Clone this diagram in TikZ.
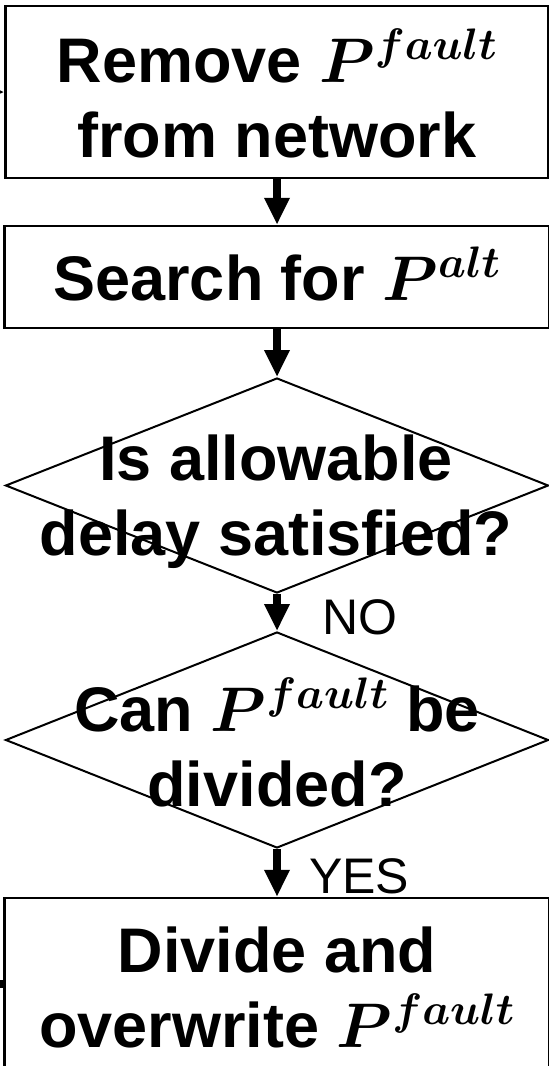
\RequirePackage{fix-cm}
\documentclass[tikz,border=0pt]{standalone}
\usepackage{fontspec}
\setmainfont{Liberation Sans}
\usetikzlibrary{arrows.meta,shapes.geometric}

\tikzset{
  stepbox/.style={draw, line width=2.5pt, rectangle, inner sep=0pt},
  decision/.style={draw, line width=2pt, diamond, inner sep=0pt},
  % multi-line texts are placed by the baseline of their last line
  body/.style={font=\fontsize{63}{75}\selectfont\bfseries\boldmath, align=center,
               anchor=base, inner sep=0pt},
  tag/.style={font=\fontsize{50}{60}\selectfont, anchor=base west, inner sep=0pt},
  flow/.style={line width=7.5pt, -{Triangle[length=27pt,width=24pt]}},
  stub/.style={line width=7.5pt},
}

\begin{document}
\begin{tikzpicture}[x=1pt, y=-1pt]
  \useasboundingbox (0,0) rectangle (549,1066);
  \clip (0,0) rectangle (549,1066);

  % process boxes and decisions
  \node[stepbox, minimum width=543pt, minimum height=172pt] (remove) at (277,92) {};
  \node[stepbox, minimum width=545pt, minimum height=102pt] (search) at (277,277) {};
  \node[decision, minimum width=543pt, minimum height=215pt] (delay) at (277,485.5) {};
  \node[decision, minimum width=543pt, minimum height=216pt] (split) at (277,740) {};
  \node[stepbox, minimum width=545pt, minimum height=172pt] (divide) at (277,984) {};

  % texts
  \node[body] (removeT) at (277,157) {Remove $P^{fault}$\\from network};
  \node[body] (searchT) at (277,300) {Search for $P^{alt}$};
  \node[body] (delayT) at (276,555) {Is allowable\\delay satisfied?};
  \node[body] (splitT) at (277,806) {Can $P^{fault}$ be\\divided?};
  \node[body] (divideT) at (277,1047) {Divide and\\overwrite $P^{fault}$};

  % branch labels
  \node[tag] (no) at (322,634) {NO};
  \node[tag] (yes) at (309,893) {YES};

  % loose ends at the left border
  \coordinate (loopIn) at (-40,92);
  \coordinate (loopOut) at (-40,984);

  % connectors
  \draw[flow] (loopIn) -- (remove.west);
  \draw[flow] (remove.south) -- (search.north);
  \draw[flow] (search.south) -- (delay.north);
  \draw[flow] (delay.south) -- (split.north);
  \draw[flow] (split.south) -- (divide.north);
  \draw[stub] (divide.west) -- (loopOut);
\end{tikzpicture}
\end{document}
